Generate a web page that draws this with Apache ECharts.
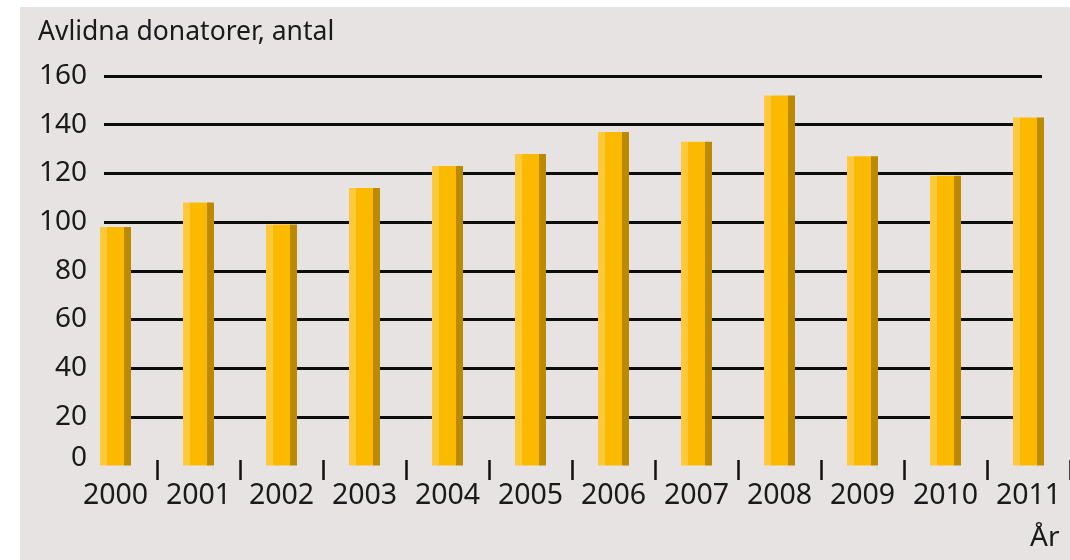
<!DOCTYPE html>
<html>
<head>
<meta charset="utf-8">
<script src="https://cdn.jsdelivr.net/npm/echarts@6/dist/echarts.min.js"></script>
<style>
html,body{margin:0;padding:0;background:#ffffff;width:1070px;height:560px;overflow:hidden;}
#c{position:absolute;left:20px;top:7px;width:1050px;height:553px;background:#e8e3e3;}
</style>
</head>
<body>
<div id="c"></div>
<script>
const years = ['2000','2001','2002','2003','2004','2005','2006','2007','2008','2009','2010','2011'];
const donors = [98, 108, 99, 114, 123, 128, 137, 133, 152, 127, 119, 143];
const yTicks = [0, 20, 40, 60, 80, 100, 120, 140, 160];
const yTitle = 'Avlidna donatorer, antal';
const xTitle = 'År';

const FONT = '"Noto Sans", "Open Sans", sans-serif';
const TXT = '#1a1a1a';

const chart = echarts.init(document.getElementById('c'), null, {renderer: 'canvas'});
chart.setOption({
  backgroundColor: '#e8e3e3',
  animation: false,
  textStyle: {fontFamily: FONT},
  graphic: [
    {type: 'text', x: 18, y: 25, style: {text: yTitle, fontSize: 26.5, fontFamily: FONT, fill: TXT, align: 'left', verticalAlign: 'middle'}},
    {type: 'text', x: 1010, y: 531, style: {text: xTitle, fontSize: 28, fontFamily: FONT, fill: TXT, align: 'left', verticalAlign: 'middle'}}
  ],
  grid: [
    {left: 84, right: 28, top: 69, bottom: 94.5},
    {left: 54, right: -1, top: 69, bottom: 94.5}
  ],
  xAxis: [
    {gridIndex: 0, type: 'category', data: years, show: false},
    {
      gridIndex: 1, type: 'category', data: years, boundaryGap: true, offset: -5.5,
      axisLine: {show: false},
      axisTick: {show: true, length: 20, interval: function (i) { return i > 0; }, lineStyle: {color: '#111', width: 2.5}},
      axisLabel: {interval: 0, fontSize: 28.5, fontFamily: FONT, color: TXT, margin: 21}
    }
  ],
  yAxis: [
    {
      gridIndex: 0, type: 'value', min: yTicks[0], max: yTicks[yTicks.length - 1], interval: yTicks[1] - yTicks[0],
      axisLine: {show: false}, axisTick: {show: false},
      axisLabel: {
        fontSize: 28, fontFamily: FONT, color: TXT, margin: 17,
        formatter: function (v) { return v === 0 ? '{z|0}' : String(v); },
        rich: {z: {fontSize: 28, fontFamily: FONT, color: TXT, padding: [0, 0, 14, 0]}}
      },
      splitLine: {show: true, showMinLine: false, lineStyle: {color: '#0d0d0d', width: 3}}
    },
    {
      gridIndex: 1, type: 'value', min: yTicks[0], max: yTicks[yTicks.length - 1], interval: yTicks[1] - yTicks[0],
      show: false, splitLine: {show: false}
    }
  ],
  series: [{
    type: 'bar',
    xAxisIndex: 1, yAxisIndex: 1,
    data: donors,
    barWidth: 31,
    itemStyle: {
      color: new echarts.graphic.LinearGradient(0, 0, 1, 0, [
        {offset: 0, color: '#fdc93c'},
        {offset: 0.23, color: '#fdc93c'},
        {offset: 0.23, color: '#fbba00'},
        {offset: 0.77, color: '#fbba00'},
        {offset: 0.77, color: '#bb8a00'},
        {offset: 1, color: '#bb8a00'}
      ])
    }
  }]
});
</script>
</body>
</html>
